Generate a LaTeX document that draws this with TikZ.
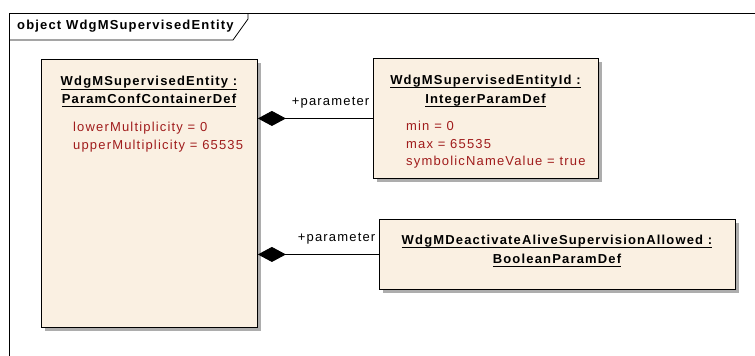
\documentclass[tikz,border=0pt]{standalone}
\usepackage{fontspec}
\setmainfont{Liberation Sans}[LetterSpace=9]
\usetikzlibrary{arrows.meta,shadows}
\definecolor{objfill}{RGB}{250,240,226}
\definecolor{attrred}{RGB}{160,28,28}
\newcommand{\objname}[1]{\setbox0\hbox{#1}\rlap{\rule[-3.8pt]{\wd0}{0.9pt}}\box0}

\begin{document}
\begin{tikzpicture}[x=1pt, y=-1pt,
  objbox/.style={draw, line width=0.9pt, fill=objfill, anchor=north west, inner sep=0pt,
    drop shadow={shadow xshift=4pt, shadow yshift=-4pt, fill=black!32, opacity=1}},
  objtitle/.style={font=\fontsize{13}{15}\selectfont\bfseries, anchor=base, inner sep=0pt},
  attr/.style={font=\fontsize{13}{15}\selectfont, text=attrred, anchor=base west, inner sep=0pt},
  role/.style={font=\fontsize{13}{15}\selectfont, anchor=base east, inner sep=0pt},
  owns/.style={draw, line width=0.9pt, -{Diamond[length=28pt,width=15pt]}}]
  \useasboundingbox (0,0) rectangle (755,356);
  % frame
  \draw [line width=0.8pt] (9,356) -- (9,13) -- (755,13);
  \draw [line width=0.8pt] (9,40) -- (233,40) -- (248,19) -- (248,13);
  \node [objtitle, anchor=base west] (frame) at (17,29.5) {object WdgMSupervisedEntity};
  % objects
  \node [objbox, minimum width=216pt, minimum height=268pt] (entity) at (41,59) {};
  \node [objbox, minimum width=225pt, minimum height=120pt] (intdef) at (373,58) {};
  \node [objbox, minimum width=356pt, minimum height=70pt] (booldef) at (379,219) {};
  \node [objtitle] (entityA) at (149,85.7) {\objname{WdgMSupervisedEntity :}};
  \node [objtitle] (entityB) at (149,103.3) {\objname{ParamConfContainerDef}};
  \node [attr] (entityC) at (73,131) {lowerMultiplicity = 0};
  \node [attr] (entityD) at (73,149) {upperMultiplicity = 65535};
  \node [objtitle] (intdefA) at (485.5,84.5) {\objname{WdgMSupervisedEntityId :}};
  \node [objtitle] (intdefB) at (485.5,103.5) {\objname{IntegerParamDef}};
  \node [attr] (intdefC) at (406,130) {min = 0};
  \node [attr] (intdefD) at (406,148) {max = 65535};
  \node [attr] (intdefE) at (406,165.5) {symbolicNameValue = true};
  \node [objtitle] (booldefA) at (557,244) {\objname{WdgMDeactivateAliveSupervisionAllowed :}};
  \node [objtitle] (booldefB) at (557,263) {\objname{BooleanParamDef}};
  % compositions
  \draw [owns] (intdef.west) -- (entity.east |- intdef.west);
  \draw [owns] (booldef.west) -- (entity.east |- booldef.west);
  \node [role] (roleA) at ([xshift=-3.5pt, yshift=12.5pt]intdef.west) {+parameter};
  \node [role] (roleB) at ([xshift=-3.5pt, yshift=12.5pt]booldef.west) {+parameter};
\end{tikzpicture}
\end{document}
